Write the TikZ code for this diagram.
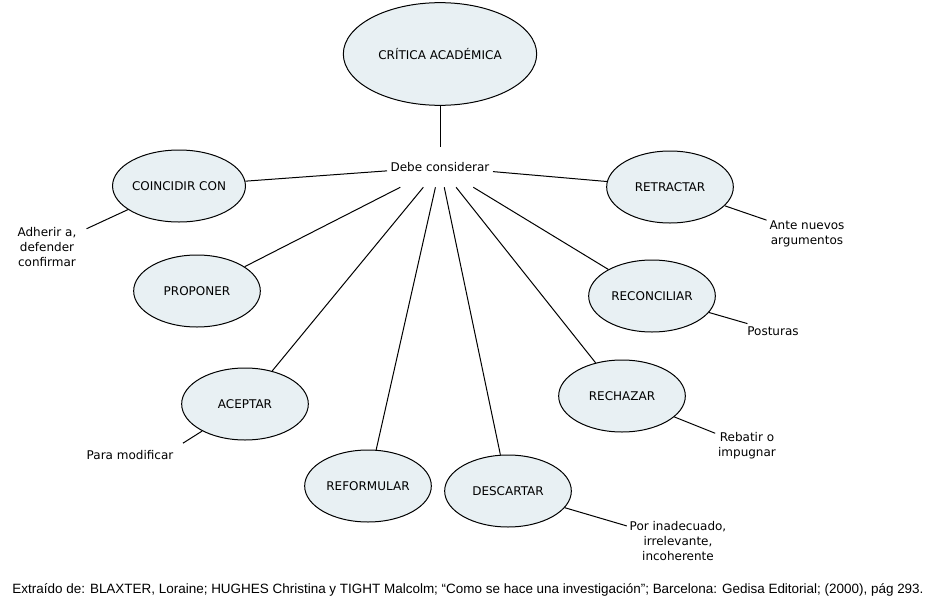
\documentclass[tikz,border=0pt]{standalone}
\usepackage{fontspec}
\setmainfont{DejaVu Sans}
\newfontfamily\footfont{Liberation Sans}
\usetikzlibrary{shapes.geometric}
\definecolor{conceptfill}{RGB}{232,240,243}
\begin{document}
\begin{tikzpicture}[x=0.75pt,y=-0.75pt,
  every node/.style={font=\fontsize{9}{11.25}\selectfont},
  concept/.style={ellipse, draw, fill=conceptfill, line width=0.75pt,
    minimum width=95pt, minimum height=54pt, inner sep=0pt},
  note/.style={align=center, inner sep=2pt},
  link/.style={line width=0.75pt}]
\useasboundingbox (0,0) rectangle (933,604);
\node[concept, minimum width=145pt, minimum height=77pt] (crit) at (440,54) {CRÍTICA ACADÉMICA};
\node[inner xsep=2.5pt, minimum height=30pt] (dc) at (440,167) {Debe considerar};
\node[concept] (coin) at (179,186) {COINCIDIR CON};
\node[concept] (prop) at (197,291) {PROPONER};
\node[concept] (acep) at (245,404) {ACEPTAR};
\node[concept] (refo) at (368,486) {REFORMULAR};
\node[concept] (desc) at (508,491) {DESCARTAR};
\node[concept] (rech) at (622,396) {RECHAZAR};
\node[concept] (reco) at (652,296) {RECONCILIAR};
\node[concept] (retr) at (670,187) {RETRACTAR};
\node[note] (adh) at (47,247) {Adherir a,\\defender\\confirmar};
\node[note] (ante) at (807,234) {Ante nuevos\\argumentos};
\node[note] (post) at (773,331) {Posturas};
\node[note] (reba) at (747,446) {Rebatir o\\impugnar};
\node[note] (inad) at (678,541) {Por inadecuado,\\irrelevante,\\incoherente};
\node[note] (para) at (130,455) {Para modificar};
\draw[link] (crit) -- (dc);
\foreach \t in {coin,prop,acep,refo,desc,rech,reco,retr}
  \draw[link] (dc) -- (\t);
\draw[link, shorten >=6pt] (coin) -- (adh);
\draw[link] (retr) -- (ante);
\draw[link] (reco) -- (post);
\draw[link] (rech) -- (reba);
\draw[link] (desc) -- (inad);
\draw[link, shorten >=6pt] (acep) -- (para.north east);
\node[font=\footfont\fontsize{10.1}{12}\selectfont, inner sep=0pt] (foot) at (468,590) {Extraído de: BLAXTER, Loraine; HUGHES Christina y TIGHT Malcolm; “Como se hace una investigación”; Barcelona: Gedisa Editorial; (2000), pág 293.};
\end{tikzpicture}
\end{document}
